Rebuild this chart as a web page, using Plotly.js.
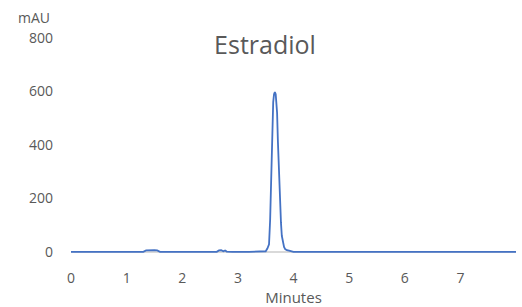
<!DOCTYPE html>
<html>
<head>
<meta charset="utf-8">
<script src="https://cdn.plot.ly/plotly-3.0.1.min.js"></script>
<style>html,body{margin:0;padding:0;background:#fff}#chart{width:522px;height:307px}</style>
</head>
<body>
<div id="chart"></div>
<script>
// Retention time (minutes)
var timeMin = [0, 0.5, 1.0, 1.3, 1.35, 1.4, 1.45, 1.5, 1.55, 1.6, 2.0, 2.5, 2.62, 2.66, 2.7, 2.74, 2.77, 2.8, 2.84, 2.9, 3.2, 3.45, 3.5, 3.53, 3.56, 3.58, 3.6, 3.62, 3.635, 3.65, 3.665, 3.68, 3.69, 3.705, 3.72, 3.74, 3.76, 3.775, 3.79, 3.81, 3.83, 3.85, 3.88, 3.92, 3.96, 4.0, 4.5, 5.0, 5.5, 6.0, 6.5, 7.0, 7.5, 8.0];
// Detector signal (mAU)
var signalMAU = [0, 0, 0, 0, 5, 6, 6, 6, 5, 0, 0, 0, 0, 5, 6, 2, 5, 1, 0, 0, 0, 0, 2, 12, 28, 120, 330, 470, 560, 590, 598, 590, 570, 520, 410, 270, 170, 108, 60, 34, 18, 10, 6, 4, 2, 0, 0, 0, 0, 0, 0, 0, 0, 0];
var yTicks = [0, 200, 400, 600, 800];
var xTicks = [0, 1, 2, 3, 4, 5, 6, 7];

var grey = '#595959';
var fontFam = '"Open Sans", "Noto Sans", sans-serif';

var trace = {
  x: timeMin,
  y: signalMAU,
  type: 'scatter',
  mode: 'lines',
  line: {color: '#4472C4', width: 1.8},
  cliponaxis: false,
  hoverinfo: 'skip'
};

var layout = {
  width: 522,
  height: 307,
  margin: {l: 71, r: 6, t: 38, b: 52, pad: 0},
  paper_bgcolor: '#fff',
  plot_bgcolor: '#fff',
  showlegend: false,
  font: {family: fontFam, color: grey, size: 14},
  title: {
    text: 'Estradiol',
    font: {family: fontFam, size: 25, color: grey},
    x: 265/522, xref: 'container', xanchor: 'center',
    y: 1 - 45/307, yref: 'container', yanchor: 'middle'
  },
  xaxis: {
    range: [0, 8],
    tickvals: xTicks,
    ticktext: xTicks.map(String),
    showgrid: false,
    zeroline: false,
    showline: false,
    ticks: '',
    ticklabelstandoff: 13,
    tickfont: {family: fontFam, size: 14, color: grey},
    title: {text: 'Minutes', font: {family: fontFam, size: 15, color: grey}, standoff: 4}
  },
  yaxis: {
    range: [-12, 800],
    tickvals: yTicks,
    ticktext: yTicks.map(String),
    showgrid: false,
    zeroline: true,
    zerolinecolor: '#d9d9d9',
    zerolinewidth: 1.5,
    showline: false,
    ticks: '',
    ticklabelstandoff: 17,
    tickfont: {family: fontFam, size: 14, color: grey}
  },
  annotations: [{
    text: 'mAU',
    xref: 'paper', yref: 'paper',
    x: (34 - 71) / 445, y: (255 - 17) / 217,
    xanchor: 'center', yanchor: 'middle',
    showarrow: false,
    font: {family: fontFam, size: 14, color: grey}
  }]
};

Plotly.newPlot('chart', [trace], layout, {displayModeBar: false, staticPlot: true});
</script>
</body>
</html>
